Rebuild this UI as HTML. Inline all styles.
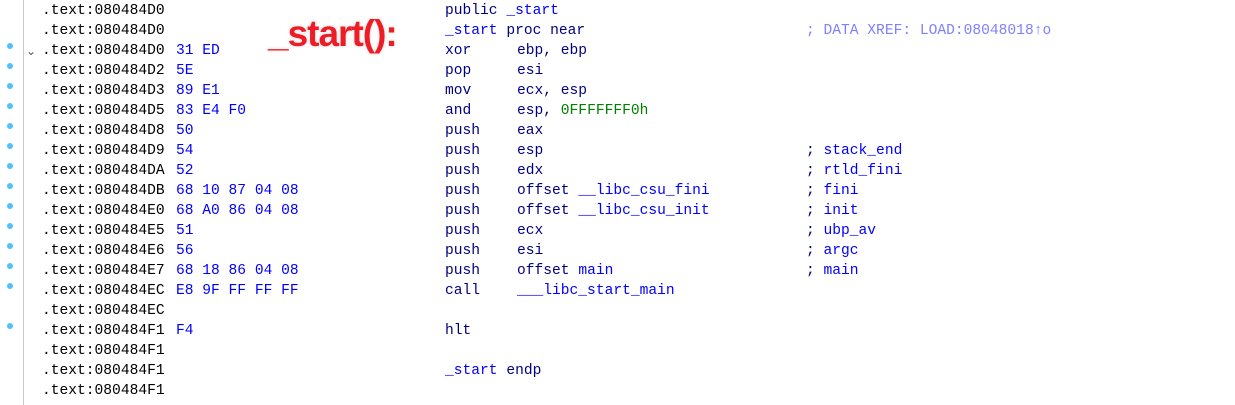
<!DOCTYPE html>
<html><head><meta charset="utf-8"><style>
body{margin:0;width:1235px;height:405px;background:#fff;position:relative;overflow:hidden;font-family:"Liberation Mono",monospace;font-size:14.6px;}
.r{position:absolute;left:0;height:20px;line-height:20px;white-space:pre;}
.r span{position:absolute;top:0;}
.a{left:42px;color:#000;}
.b{left:176px;color:#0000ff;}
.m{left:445px;color:#000080;}
.o{left:517px;color:#000080;}
.s{color:#0000ff;}
.c{left:806px;color:#000080;}
.g{color:#008000;}
.dot{position:absolute;left:7px;width:6px;height:6px;border-radius:50%;background:#4fc3f7;}
.line{position:absolute;left:23px;top:0;width:1px;height:405px;background:#c8c8c8;}
.title{position:absolute;left:268px;top:13px;font-family:"Liberation Sans",sans-serif;font-weight:bold;font-size:37px;color:#ee1c25;text-shadow:0 0 2px #fff,0 0 3px #ccc;letter-spacing:-1px;}
</style></head><body>
<div class="line"></div>
<div class="title">_start():</div>
<div class="r" style="top:1px"><span class="a">.text:080484D0</span><span class="m">public <span class="s">_start</span></span></div>
<div class="r" style="top:21px"><span class="a">.text:080484D0</span><span class="m" style="color:#0000ff">_start <span style="color:#000080">proc near</span></span><span class="c" style="color:#8080ff">; DATA XREF: LOAD:08048018↑o</span></div>
<div class="r" style="top:41px"><span style="left:26px;color:#555;font-family:'DejaVu Sans';font-size:12px">⌄</span><span class="a">.text:080484D0</span><span class="b">31 ED</span><span class="m">xor</span><span class="o">ebp, ebp</span></div>
<div class="r" style="top:61px"><span class="a">.text:080484D2</span><span class="b">5E</span><span class="m">pop</span><span class="o">esi</span></div>
<div class="r" style="top:81px"><span class="a">.text:080484D3</span><span class="b">89 E1</span><span class="m">mov</span><span class="o">ecx, esp</span></div>
<div class="r" style="top:101px"><span class="a">.text:080484D5</span><span class="b">83 E4 F0</span><span class="m">and</span><span class="o">esp, <span class="g">0FFFFFFF0h</span></span></div>
<div class="r" style="top:121px"><span class="a">.text:080484D8</span><span class="b">50</span><span class="m">push</span><span class="o">eax</span></div>
<div class="r" style="top:141px"><span class="a">.text:080484D9</span><span class="b">54</span><span class="m">push</span><span class="o">esp</span><span class="c">; <span class="s">stack_end</span></span></div>
<div class="r" style="top:161px"><span class="a">.text:080484DA</span><span class="b">52</span><span class="m">push</span><span class="o">edx</span><span class="c">; <span class="s">rtld_fini</span></span></div>
<div class="r" style="top:181px"><span class="a">.text:080484DB</span><span class="b">68 10 87 04 08</span><span class="m">push</span><span class="o">offset <span class="s">__libc_csu_fini</span></span><span class="c">; <span class="s">fini</span></span></div>
<div class="r" style="top:201px"><span class="a">.text:080484E0</span><span class="b">68 A0 86 04 08</span><span class="m">push</span><span class="o">offset <span class="s">__libc_csu_init</span></span><span class="c">; <span class="s">init</span></span></div>
<div class="r" style="top:221px"><span class="a">.text:080484E5</span><span class="b">51</span><span class="m">push</span><span class="o">ecx</span><span class="c">; <span class="s">ubp_av</span></span></div>
<div class="r" style="top:241px"><span class="a">.text:080484E6</span><span class="b">56</span><span class="m">push</span><span class="o">esi</span><span class="c">; <span class="s">argc</span></span></div>
<div class="r" style="top:261px"><span class="a">.text:080484E7</span><span class="b">68 18 86 04 08</span><span class="m">push</span><span class="o">offset <span class="s">main</span></span><span class="c">; <span class="s">main</span></span></div>
<div class="r" style="top:281px"><span class="a">.text:080484EC</span><span class="b">E8 9F FF FF FF</span><span class="m">call</span><span class="o s">___libc_start_main</span></div>
<div class="r" style="top:301px"><span class="a">.text:080484EC</span></div>
<div class="r" style="top:321px"><span class="a">.text:080484F1</span><span class="b">F4</span><span class="m">hlt</span></div>
<div class="r" style="top:341px"><span class="a">.text:080484F1</span></div>
<div class="r" style="top:361px"><span class="a">.text:080484F1</span><span class="m" style="color:#0000ff">_start <span style="color:#000080">endp</span></span></div>
<div class="r" style="top:381px"><span class="a">.text:080484F1</span></div>
<div class="dot" style="top:43px"></div><div class="dot" style="top:63px"></div><div class="dot" style="top:83px"></div><div class="dot" style="top:103px"></div><div class="dot" style="top:123px"></div><div class="dot" style="top:143px"></div><div class="dot" style="top:163px"></div><div class="dot" style="top:183px"></div><div class="dot" style="top:203px"></div><div class="dot" style="top:223px"></div><div class="dot" style="top:243px"></div><div class="dot" style="top:263px"></div><div class="dot" style="top:283px"></div><div class="dot" style="top:323px"></div>
</body></html>
